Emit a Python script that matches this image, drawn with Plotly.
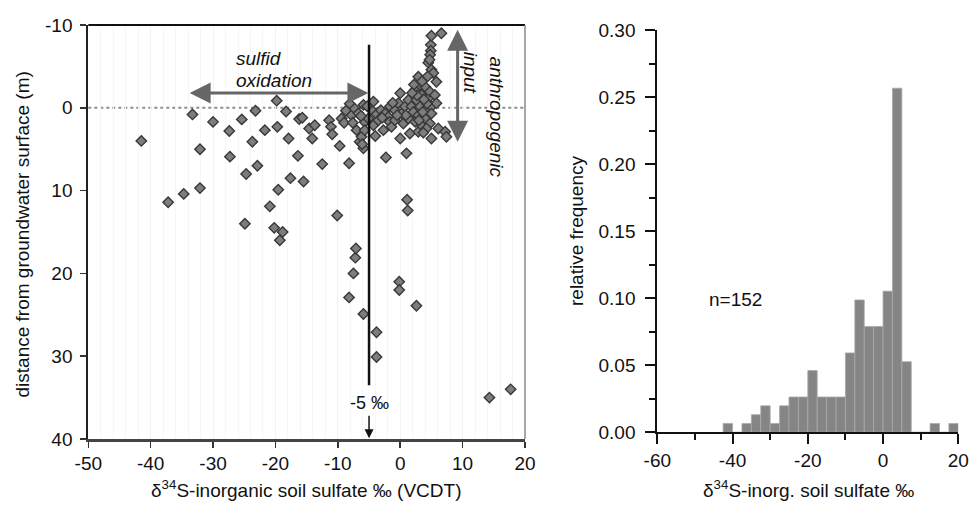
import plotly.graph_objects as go

# ---------------- data ----------------
# left panel: delta34S (permil) vs distance from groundwater surface (m)
d34s = [
    -41.5, -37.2, -34.7, -33.3, -32.1, -32.1, -30.0, -27.4, -27.3, -25.4,
    -24.9, -24.7, -23.7, -23.2, -22.9, -21.7, -20.9, -20.2, -19.8, -19.7,
    -19.55, -19.3, -18.85, -18.3, -17.9, -17.6, -16.4, -16.2, -15.7, -15.5,
    -14.6, -14.1, -13.7, -12.5, -11.4, -11.1, -10.9, -10.1, -9.7, -9.4,
    -9.0, -8.7, -8.1, -8.2, -8.2, -7.8, -7.5, -7.3, -7.2, -7.1,
    -7.0, -6.7, -6.5, -6.2, -5.9, -5.9, -5.9, -5.7, -5.7, -5.1,
    -6.1, -4.3, -4.3, -3.9, -3.8, -3.8, -3.5, -3.1, -2.7, -2.45,
    -2.3, -1.9, -1.7, -1.65, -1.4, -0.85, -0.85, -0.3, -0.16, -0.16,
    0.0, 0.0, 0.2, 0.5, 0.75, 1.0, 1.1, 1.2, 1.3, 1.3,
    1.55, 1.8, 2.1, 2.35, 2.4, 2.6, 2.6, 2.9, 2.9, 2.9,
    3.2, 3.2, 3.4, 3.4, 4.0, 4.0, 4.0, 4.5, 4.5, 4.75,
    4.75, 4.9, 4.9, 4.8, 4.7, 5.0, 5.0, 5.0, 5.0, 5.0,
    5.3, 5.55, 5.8, 5.8, 6.1, 6.6, 7.2, 7.4, 14.3, 17.7,
    3.6, 3.0, 4.3, 3.8, 2.7, 4.2, 3.5, 4.4, 2.2, 3.7,
    1.9, 0.9, -0.5, -1.2, -2.9, -4.7, -5.3, -6.3, -7.6, -4.0,
]
depth = [
    4.0, 11.4, 10.4, 0.8, 5.0, 9.7, 1.7, 2.8, 5.9, 1.4,
    14.0, 8.0, 4.1, 0.35, 7.0, 2.7, 11.9, 14.5, -0.86, 2.3,
    9.9, 16.0, 15.0, 0.45, 3.7, 8.5, 5.8, 1.35, 1.2, 8.9,
    2.5, 3.7, 2.1, 6.8, 1.5, 2.3, 3.2, 13.0, 4.6, 1.3,
    1.8, 0.35, -0.5, 6.7, 22.9, 0.9, 20.0, 0.1, 18.1, 17.0,
    2.7, 0.67, 4.1, 3.5, 4.9, -0.35, 24.9, 1.7, 2.7, 1.3,
    4.4, -0.75, 2.1, 0.7, 27.1, 30.1, 1.5, 0.3, 2.7, 0.7,
    6.0, 1.1, 1.7, -0.15, 2.3, 0.3, 1.5, -0.55, 21.0, 22.0,
    -1.75, 3.7, 0.7, 1.9, -0.15, 5.5, 11.1, 12.4, -0.95, 1.3,
    3.1, -0.15, 0.5, -2.15, 1.7, -0.95, 23.9, -3.75, 0.9, 2.9,
    -2.75, -0.15, -1.55, 2.1, -2.55, 0.3, 1.3, -1.15, -5.45, -1.95,
    1.9, -7.6, -6.9, -6.4, -5.8, -8.7, -0.15, 0.7, 3.7, -4.6,
    -4.2, -1.55, -3.15, -0.55, 2.5, -9.0, 2.9, 3.5, 35.0, 34.0,
    0.5, 1.5, -0.5, -1.0, -1.5, 2.5, -3.2, -3.8, -2.8, 3.0,
    -1.8, 0.9, 0.9, -0.6, 1.2, 0.2, -0.2, 1.0, 1.8, 3.4,
]

# right panel: histogram, 2.5 permil bins (left edges) and counts, n = 152
bin_left = [-42.5, -40.0, -37.5, -35.0, -32.5, -30.0, -27.5, -25.0, -22.5, -20.0,
            -17.5, -15.0, -12.5, -10.0, -7.5, -5.0, -2.5, 0.0, 2.5, 5.0,
            7.5, 10.0, 12.5, 15.0, 17.5]
counts = [1, 0, 1, 2, 3, 1, 3, 4, 4, 7,
          4, 4, 4, 9, 15, 12, 12, 16, 39, 8,
          0, 0, 1, 0, 1]
n_total = 152
bin_width = 2.5

x_ticks_left = [-50, -40, -30, -20, -10, 0, 10, 20]
x_labels_left = ["-50", "-40", "-30", "-20", "-10", "0", "10", "20"]
y_ticks_left = [-10, 0, 10, 20, 30, 40]
y_labels_left = ["-10", "0", "10", "20", "30", "40"]
x_ticks_right = [-60, -40, -20, 0, 20]
x_labels_right = ["-60", "-40", "-20", "0", "20"]
y_ticks_right = [0.0, 0.05, 0.10, 0.15, 0.20, 0.25, 0.30]
y_labels_right = ["0.00", "0.05", "0.10", "0.15", "0.20", "0.25", "0.30"]

# ---------------- figure ----------------
FONT = "Liberation Sans, Arial, Helvetica, sans-serif"
W, H = 969, 505
OFF = 0  # page body margin removed below


def fx(px):
    return (px - OFF) / W


def fy(py):
    return 1 - (py - OFF) / H


bin_centers = [b + bin_width / 2 for b in bin_left]
freq = [c / n_total for c in counts]

fig = go.Figure()

fig.add_trace(go.Scatter(
    x=d34s, y=depth, mode="markers",
    marker=dict(symbol="diamond", size=8, color="#7d7d7d",
                line=dict(color="#383838", width=1.4)),
    xaxis="x", yaxis="y", showlegend=False, hoverinfo="skip",
))

fig.add_trace(go.Bar(
    x=bin_centers, y=freq, width=bin_width,
    marker=dict(color="#858585", line=dict(color="#a9a9a9", width=0.8)),
    xaxis="x2", yaxis="y2", showlegend=False, hoverinfo="skip",
))

tickfont = dict(family=FONT, size=19, color="#111")

fig.update_layout(
    template="none",
    width=W, height=H,
    margin=dict(l=0, r=0, t=0, b=0, pad=0),
    paper_bgcolor="white", plot_bgcolor="white",
    font=dict(family=FONT, size=19, color="#111"),
    bargap=0,
    hovermode=False,
    xaxis=dict(domain=[fx(88.3), fx(525)], range=[-50, 20], anchor="y", automargin=False,
               tickmode="array", tickvals=x_ticks_left, ticktext=x_labels_left,
               ticks="outside", ticklen=6, tickwidth=1.5, tickcolor="#333",
               showline=True, linecolor="#444", linewidth=2.5,
               showgrid=True, gridcolor="#f3f3f3", gridwidth=1,
               minor=dict(dtick=2, showgrid=True, gridcolor="#f6f6f6"),
               zeroline=False, tickfont=tickfont),
    yaxis=dict(domain=[fy(439), fy(25)], range=[40, -10], anchor="x", automargin=False,
               tickmode="array", tickvals=y_ticks_left, ticktext=y_labels_left,
               ticks="outside", ticklen=6, tickwidth=1.5, tickcolor="#333",
               ticklabelstandoff=4,
               showline=True, linecolor="#222", linewidth=2,
               showgrid=False, zeroline=False, tickfont=tickfont),
    xaxis2=dict(domain=[fx(657.3), fx(958.3)], range=[-60, 20], anchor="y2", automargin=False,
                tickmode="array", tickvals=x_ticks_right, ticktext=x_labels_right,
                ticks="outside", ticklen=10, tickwidth=2, tickcolor="#111",
                minor=dict(dtick=10, ticks="outside", ticklen=6, tickwidth=2, tickcolor="#111"),
                showline=True, linecolor="#111", linewidth=2,
                showgrid=False, zeroline=False, tickfont=tickfont),
    yaxis2=dict(domain=[fy(432.3), fy(30)], range=[0, 0.30], anchor="x2", automargin=False,
                tickmode="array", tickvals=y_ticks_right, ticktext=y_labels_right,
                ticks="outside", ticklen=10, tickwidth=2, tickcolor="#111",
                ticklabelstandoff=6,
                minor=dict(dtick=0.025, ticks="outside", ticklen=6, tickwidth=2, tickcolor="#111"),
                showline=True, linecolor="#111", linewidth=2,
                showgrid=False, zeroline=False, tickfont=tickfont),
)

# frame of left panel (top and right)
fig.add_shape(type="line", xref="x domain", yref="y domain", x0=0, x1=1, y0=1, y1=1,
              line=dict(color="#111", width=2), layer="above")
fig.add_shape(type="line", xref="x domain", yref="y domain", x0=1, x1=1, y0=0, y1=1,
              line=dict(color="#8a8a8a", width=1.5), layer="above")
# groundwater surface dotted line
fig.add_shape(type="line", xref="x domain", yref="y", x0=0, x1=1, y0=0, y1=0,
              line=dict(color="#8c8c8c", width=2, dash="dot"), layer="below")
# -5 permil line
fig.add_shape(type="line", xref="x", yref="y", x0=-5, x1=-5, y0=-7.6, y1=33.5,
              line=dict(color="#111", width=2.5), layer="above")

ann = []
# -5 label and small arrow
ann.append(dict(x=-4.9, y=35.6, xref="x", yref="y", xanchor="center", yanchor="middle",
                text="-5 ‰", showarrow=False, font=dict(size=18, color="#111")))
ann.append(dict(x=-5, y=39.9, ax=-5, ay=37.0, xref="x", yref="y", axref="x", ayref="y",
                text="", showarrow=True, arrowhead=2, arrowsize=1.2, arrowwidth=1.5,
                arrowcolor="#111"))
# sulfid oxidation double arrow
ann.append(dict(x=-5.1, y=-1.8, ax=-34.0, ay=-1.8, xref="x", yref="y", axref="x", ayref="y",
                text="", showarrow=True, arrowhead=2, startarrowhead=2, arrowside="end+start",
                arrowsize=1.4, startarrowsize=1.4, arrowwidth=3, arrowcolor="#666"))
ann.append(dict(x=-26.7, y=-6.0, xref="x", yref="y", xanchor="left", yanchor="middle",
                text="<i>sulfid</i>", showarrow=False, font=dict(size=19, color="#111")))
ann.append(dict(x=-26.7, y=-3.25, xref="x", yref="y", xanchor="left", yanchor="middle",
                text="<i>oxidation</i>", showarrow=False, font=dict(size=19, color="#111")))
# anthropogenic input double arrow
ann.append(dict(x=9.2, y=4.1, ax=9.2, ay=-9.6, xref="x", yref="y", axref="x", ayref="y",
                text="", showarrow=True, arrowhead=2, startarrowhead=2, arrowside="end+start",
                arrowsize=1.4, startarrowsize=1.4, arrowwidth=3, arrowcolor="#666"))
ann.append(dict(x=15.4, y=1.1, xref="x", yref="y", xanchor="center", yanchor="middle",
                text="<i>anthropogenic</i>", textangle=90, showarrow=False,
                font=dict(size=19, color="#111")))
ann.append(dict(x=11.4, y=-4.2, xref="x", yref="y", xanchor="center", yanchor="middle",
                text="<i>input</i>", textangle=90, showarrow=False,
                font=dict(size=19, color="#111")))
# n label
ann.append(dict(x=-39.1, y=0.099, xref="x2", yref="y2", xanchor="center", yanchor="middle",
                text="n=152", showarrow=False, font=dict(size=19, color="#111")))
# axis titles
ann.append(dict(x=fx(22.5), y=fy(235), xref="paper", yref="paper",
                xanchor="center", yanchor="middle",
                text="distance from groundwater surface (m)", textangle=-90,
                showarrow=False, font=dict(size=19, color="#111")))
ann.append(dict(x=fx(306), y=fy(489), xref="paper", yref="paper",
                xanchor="center", yanchor="middle",
                text="δ<sup>34</sup>S-inorganic soil sulfate ‰ (VCDT)",
                showarrow=False, font=dict(size=19, color="#111")))
ann.append(dict(x=fx(577), y=fy(231), xref="paper", yref="paper",
                xanchor="center", yanchor="middle",
                text="relative frequency", textangle=-90,
                showarrow=False, font=dict(size=19, color="#111")))
ann.append(dict(x=fx(808), y=fy(489), xref="paper", yref="paper",
                xanchor="center", yanchor="middle",
                text="δ<sup>34</sup>S-inorg. soil sulfate ‰",
                showarrow=False, font=dict(size=19, color="#111")))
fig.update_layout(annotations=ann)

fig.write_html("out.html",
               config={"displayModeBar": False, "staticPlot": True},
               post_script="document.body.style.margin='0';document.body.style.overflow='hidden';")
